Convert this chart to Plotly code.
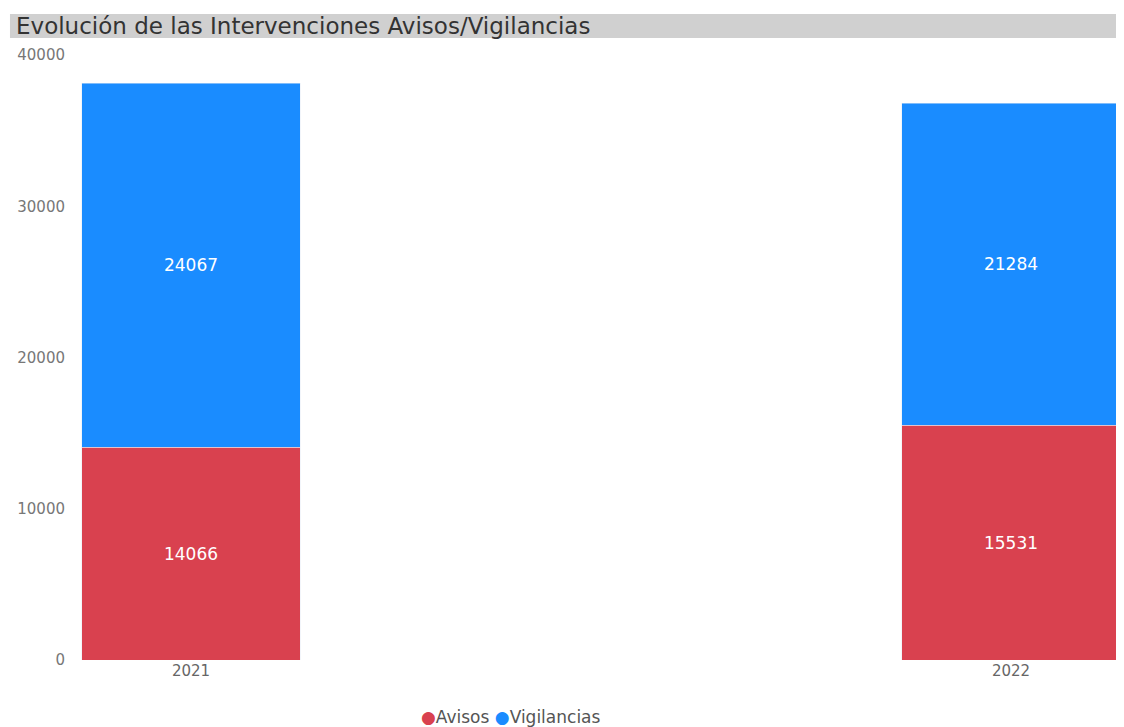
import plotly.graph_objects as go

years = ["2021", "2022"]
avisos = [14066, 15531]
vigilancias = [24067, 21284]
y_ticks = [0, 10000, 20000, 30000, 40000]
title_text = "Evolución de las Intervenciones Avisos/Vigilancias"
legend_labels = ["Avisos", "Vigilancias"]

RED = "#d9414f"
BLUE = "#1a8cff"
FONT = "DejaVu Sans"

fig = go.Figure()
fig.add_bar(x=years, y=avisos, name=legend_labels[0], marker_color=RED, width=0.266,
            text=[str(v) for v in avisos], textposition="inside", insidetextanchor="middle",
            textfont=dict(color="white", size=17, family=FONT), showlegend=False)
fig.add_bar(x=years, y=vigilancias, name=legend_labels[1], marker_color=BLUE, width=0.266,
            text=[str(v) for v in vigilancias], textposition="inside", insidetextanchor="middle",
            textfont=dict(color="white", size=17, family=FONT), showlegend=False)

# title band
fig.add_shape(type="rect", xref="paper", yref="paper", x0=-0.0672, x1=1.003,
              y0=1.028, y1=1.0678, fillcolor="#d0d0d0", line_width=0, layer="below")
fig.add_annotation(text=title_text, xref="paper", yref="paper", x=-0.063, y=1.048,
                   xanchor="left", yanchor="middle", showarrow=False,
                   font=dict(family=FONT, size=23, color="#333333"))

# legend (circle markers drawn as text)
legend_html = (f"<span style='color:{RED}'>●</span>{legend_labels[0]} "
               f"<span style='color:{BLUE}'>●</span>{legend_labels[1]}")
fig.add_annotation(text=legend_html, xref="paper", yref="paper", x=0.414, y=-0.094,
                   xanchor="center", yanchor="middle", showarrow=False,
                   font=dict(family=FONT, size=17, color="#555555"))

fig.update_layout(
    barmode="stack",
    width=1116, height=719,
    margin=dict(l=72, r=2, t=47, b=67),
    plot_bgcolor="white", paper_bgcolor="white",
    font=dict(family=FONT, color="#666666"),
    showlegend=False,
    uniformtext=dict(mode=False),
)
fig.update_xaxes(type="category", range=[-0.1354, 1.1354], showgrid=False, zeroline=False,
                 showline=False, ticks="", tickfont=dict(size=15, color="#666666", family=FONT))
fig.update_yaxes(range=[0, 40000], tickvals=y_ticks, ticktext=[str(v) for v in y_ticks],
                 showgrid=False, zeroline=False, showline=False, ticks="",
                 tickfont=dict(size=15, color="#777777", family=FONT), ticklabelstandoff=14)

fig.write_html("out.html")
